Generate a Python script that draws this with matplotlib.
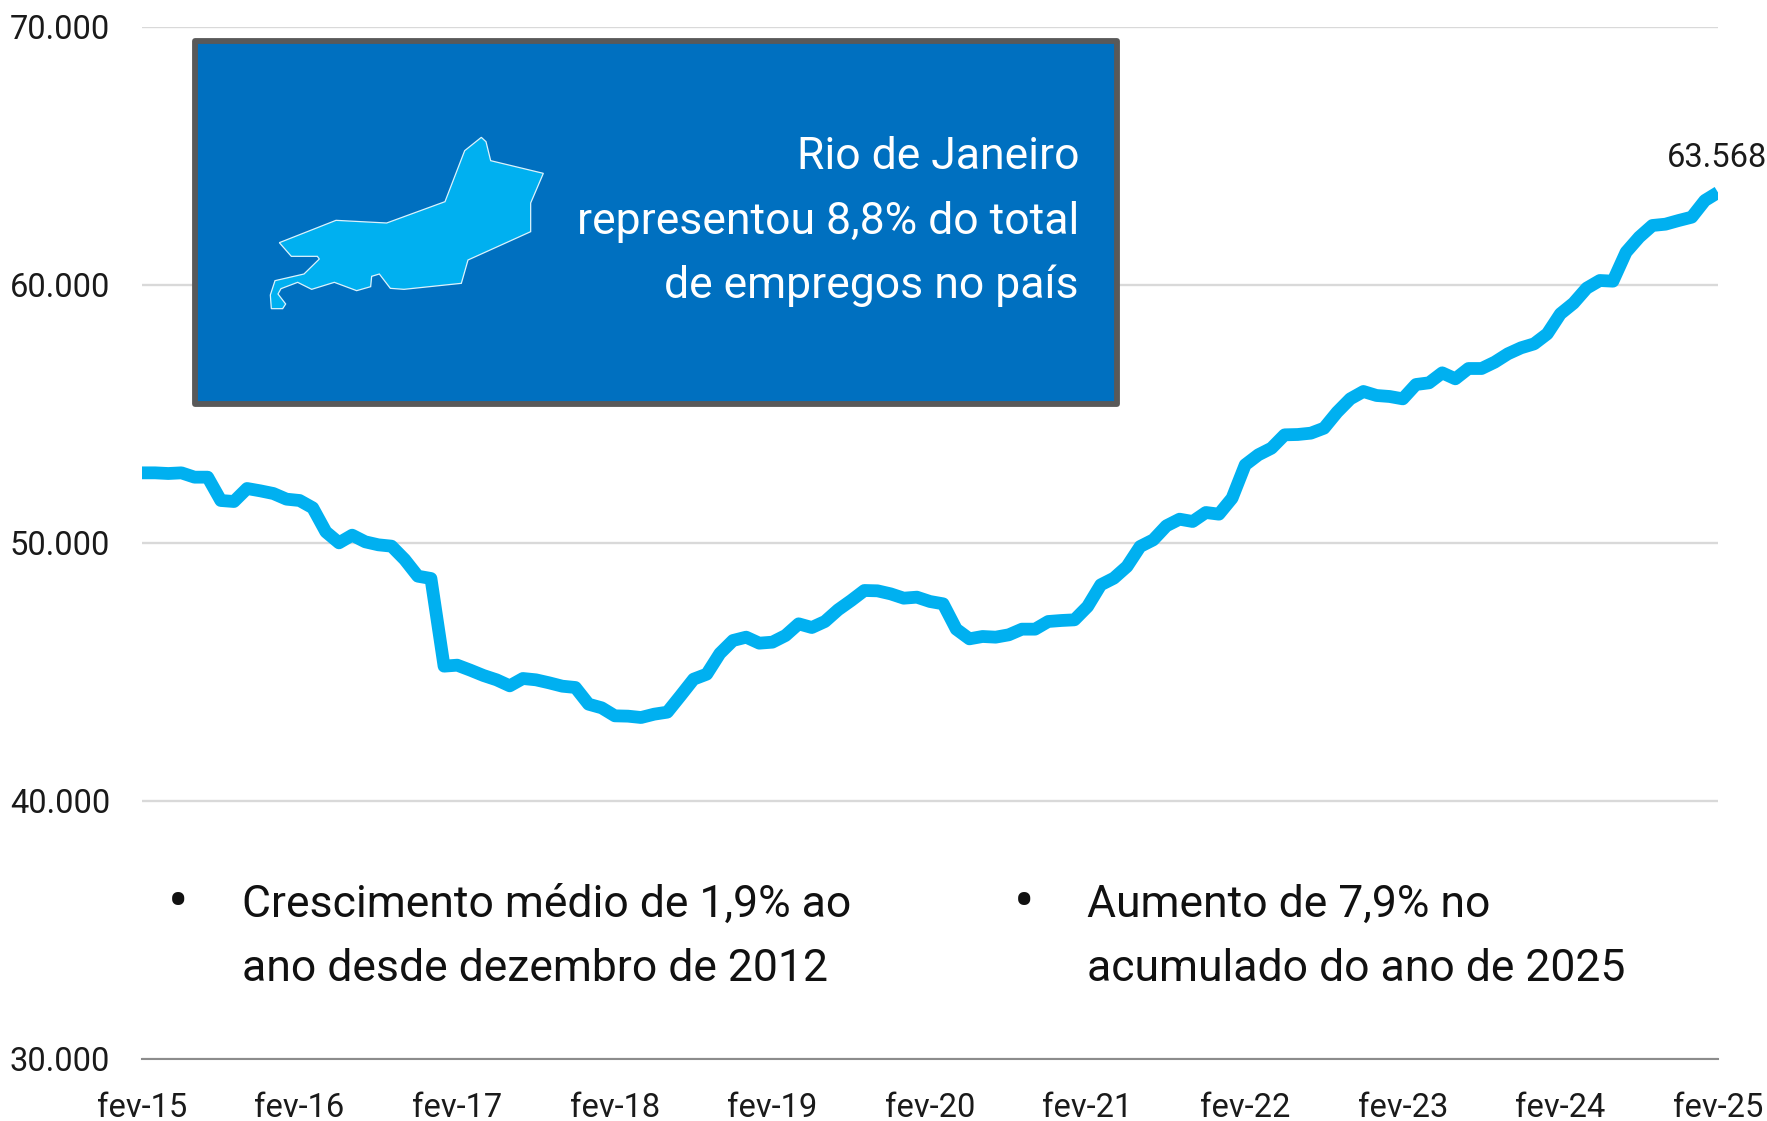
import matplotlib
matplotlib.use("Agg")
import matplotlib.pyplot as plt
from matplotlib.patches import Rectangle, Polygon

FONT = ['Roboto', 'Liberation Sans', 'DejaVu Sans']
plt.rcParams['font.family'] = FONT

tick_labels = ['fev-15', 'fev-16', 'fev-17', 'fev-18', 'fev-19', 'fev-20',
               'fev-21', 'fev-22', 'fev-23', 'fev-24', 'fev-25']
y_ticks = [30000, 40000, 50000, 60000, 70000]
y_labels = ['30.000', '40.000', '50.000', '60.000', '70.000']

empregos = [
    52700, 52700, 52674, 52700, 52532, 52532, 51628, 51589, 52093, 52003,
    51899, 51680, 51628, 51344, 50413, 49987, 50284, 50026, 49910, 49858,
    49341, 48695, 48605, 45207, 45245, 45052, 44845, 44677, 44444, 44729,
    44677, 44561, 44431, 44380, 43734, 43592, 43282, 43269, 43217, 43346,
    43424, 44057, 44703, 44897, 45698, 46202, 46331, 46098, 46137, 46395,
    46848, 46705, 46938, 47390, 47752, 48140, 48127, 48010, 47842, 47881,
    47713, 47623, 46641, 46266, 46357, 46331, 46422, 46641, 46641, 46938,
    46977, 47003, 47519, 48359, 48618, 49070, 49845, 50103, 50646, 50904,
    50814, 51163, 51098, 51718, 53010, 53398, 53656, 54173, 54186, 54238,
    54431, 55052, 55568, 55853, 55698, 55659, 55568, 56124, 56189, 56576,
    56344, 56744, 56744, 56990, 57313, 57545, 57700, 58088, 58863, 59276,
    59858, 60155, 60129, 61253, 61835, 62287, 62338, 62480, 62610, 63256,
    63568,
]
meses = list(range(len(empregos)))

# contorno do estado (decoração), em pixels do zoom da referência
mapa_zoom = [(298, 668), (468, 601), (620, 609), (795, 545), (854, 392), (904, 352),
             (918, 365), (932, 422), (1090, 460), (1052, 549), (1052, 635), (864, 720),
             (844, 790), (672, 808), (631, 805), (598, 762), (575, 769), (572, 800),
             (530, 812), (463, 787), (395, 808), (353, 787), (303, 806), (294, 822),
             (317, 852), (308, 866), (274, 866), (271, 825), (285, 782), (372, 762),
             (418, 717), (412, 709), (334, 709)]

W, H = 1767, 1121
fig = plt.figure(figsize=(W / 100, H / 100), dpi=100, facecolor='white')
L, R, T, B = 142, 1718, 26.5, 1058.5
ax = fig.add_axes([L / W, 1 - B / H, (R - L) / W, (B - T) / H])
ax.set_xlim(0, 120)
ax.set_ylim(30000, 70000)
for s in ['top', 'left', 'right']:
    ax.spines[s].set_visible(False)
ax.spines['bottom'].set_color('#8C8C8C')
ax.spines['bottom'].set_linewidth(1.5)
ax.set_yticks(y_ticks, y_labels)
ax.set_xticks(range(0, 121, 12), tick_labels)
ax.tick_params(axis='y', length=0, pad=23, labelsize=23.5, labelcolor='#1A1A1A')
ax.tick_params(axis='x', length=0, pad=24, labelsize=23.5, labelcolor='#1A1A1A')
ax.grid(axis='y', color='#D9D9D9', lw=1.7)
ax.set_axisbelow(True)
ax.plot(meses, empregos, color='#00B0F0', lw=9.2, solid_joinstyle='round',
        solid_capstyle='butt', zorder=3)
ax.annotate('63.568', xy=(meses[-1], empregos[-1]), xytext=(-1, 25),
            textcoords='offset points', ha='center', va='center',
            fontsize=23.5, color='#1A1A1A', annotation_clip=False)

ov = fig.add_axes([0, 0, 1, 1], facecolor='none')
ov.set_xlim(0, W)
ov.set_ylim(H, 0)
ov.axis('off')
ov.add_patch(Rectangle((195, 41), 922, 363, facecolor='#0070C0', edgecolor='#595959',
                       lw=4.2, joinstyle='round'))
ov.add_patch(Polygon([(180 + x / 3, 20 + y / 3) for x, y in mapa_zoom], closed=True,
                     facecolor='#00B0F0', edgecolor='#DDF3FC', lw=0.9))
for y, t in [(157, 'Rio de Janeiro'), (222, 'representou 8,8% do total'),
             (286, 'de empregos no país')]:
    ov.text(1079, y, t, color='white', fontsize=32, ha='right', va='center')
for bx, tx, lines in [(178, 242, ['Crescimento médio de 1,9% ao', 'ano desde dezembro de 2012']),
                      (1024, 1087, ['Aumento de 7,9% no', 'acumulado do ano de 2025'])]:
    ov.text(bx, 904, '•', color='#111111', fontsize=44, ha='center', va='center')
    ov.text(tx, 905, lines[0], color='#111111', fontsize=32, ha='left', va='center')
    ov.text(tx, 969, lines[1], color='#111111', fontsize=32, ha='left', va='center')

fig.savefig('out.png', dpi=100)
